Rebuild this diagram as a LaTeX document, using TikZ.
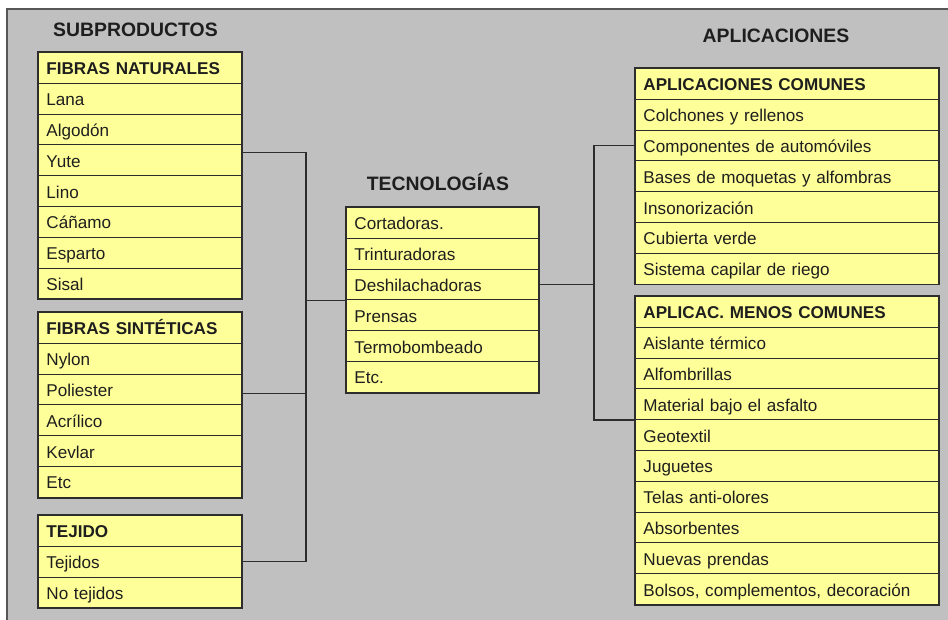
\documentclass[tikz,border=0pt]{standalone}
\usepackage{fontspec}
\setmainfont{Liberation Sans}
\definecolor{bggray}{RGB}{192,192,192}
\definecolor{rowyellow}{RGB}{255,255,153}
\definecolor{ink}{RGB}{30,30,30}
\definecolor{edge}{RGB}{45,45,45}
\begin{document}
\begin{tikzpicture}[x=1pt,y=-1pt,
  rowbox/.style={draw=edge, line width=0.9pt, fill=rowyellow, rectangle, anchor=north west,
    minimum height=30.8pt, inner ysep=0pt, inner xsep=8pt, align=left, text=ink,
    font=\fontsize{17.1}{18}\selectfont, text height=15.6pt, text depth=1.6pt},
  lrow/.style={rowbox, text width=187pt, minimum width=203pt},
  crow/.style={rowbox, text width=176pt, minimum width=192pt},
  rrow/.style={rowbox, text width=287pt, minimum width=303pt},
  hdr/.style={font=\fontsize{17.1}{18}\selectfont\bfseries},
  frame/.style={draw=edge, line width=1.6pt},
  title/.style={anchor=base, text=ink, font=\fontsize{19.4}{22}\selectfont\bfseries},
  wire/.style={draw=edge, line width=1.4pt}]
\useasboundingbox (0,0) rectangle (948,620);
\fill[white] (0,0) rectangle (948,620);
\draw[fill=bggray, draw=edge!80, line width=1.5pt] (7,9) rectangle (960,632);

% titles
\node[title] (tsub) at (135.5,36.7) {SUBPRODUCTOS};
\node[title] (ttec) at (438,190.7) {TECNOLOGÍAS};
\node[title] (tapl) at (776,42.7) {APLICACIONES};

% left: fibras naturales
\node[lrow,hdr] (n0) at (38,52) {FIBRAS NATURALES};
\foreach \t [count=\i] in {Lana,Algodón,Yute,Lino,Cáñamo,Esparto,Sisal}
  \node[lrow] (n\i) at (38,52+\i*30.8) {\t};
\draw[frame] (n0.north west) rectangle (n7.south east);

% fibras sinteticas
\node[lrow,hdr] (s0) at (38,312) {FIBRAS SINTÉTICAS};
\foreach \t [count=\i] in {Nylon,Poliester,Acrílico,Kevlar,Etc}
  \node[lrow] (s\i) at (38,312+\i*30.8) {\t};
\draw[frame] (s0.north west) rectangle (s5.south east);

% tejido
\node[lrow,hdr] (t0) at (38,515) {TEJIDO};
\foreach \t [count=\i] in {Tejidos,No tejidos}
  \node[lrow] (t\i) at (38,515+\i*30.8) {\t};
\draw[frame] (t0.north west) rectangle (t2.south east);

% tecnologias
\foreach \t [count=\i from 0] in {Cortadoras.,Trinturadoras,Deshilachadoras,Prensas,Termobombeado,Etc.}
  \node[crow] (c\i) at (346,207+\i*30.8) {\t};
\draw[frame] (c0.north west) rectangle (c5.south east);

% aplicaciones comunes
\node[rrow,hdr] (a0) at (635,68) {APLICACIONES COMUNES};
\foreach \t [count=\i] in {Colchones y rellenos,Componentes de automóviles,Bases de moquetas y alfombras,Insonorización,Cubierta verde,Sistema capilar de riego}
  \node[rrow] (a\i) at (635,68+\i*30.8) {\t};
\draw[frame] (a0.north west) rectangle (a6.south east);

% aplicaciones menos comunes
\node[rrow,hdr] (m0) at (635,296) {APLICAC. MENOS COMUNES};
\foreach \t [count=\i] in {Aislante térmico,Alfombrillas,Material bajo el asfalto,Geotextil,Juguetes,Telas anti-olores,Absorbentes,Nuevas prendas,{Bolsos, complementos, decoración}}
  \node[rrow] (m\i) at (635,296+\i*30.8) {\t};
\draw[frame] (m0.north west) rectangle (m9.south east);

% connectors left
\path (c2.south west) ++(-40,0) coordinate (jL);
\draw[wire] ([yshift=8pt]n3.east) -| (jL);
\draw[wire] ([yshift=-4pt]s2.east) -| (jL);
\draw[wire] (t1.east) -| (jL);
\draw[wire] (jL) -- (c2.south west);

% connectors right
\path (c2.east) ++(55,0) coordinate (jR);
\draw[wire] (c2.east) -- (jR);
\draw[wire] (a2.west) -| (jR);
\draw[wire] (m3.south west) -| (jR);
\end{tikzpicture}
\end{document}
